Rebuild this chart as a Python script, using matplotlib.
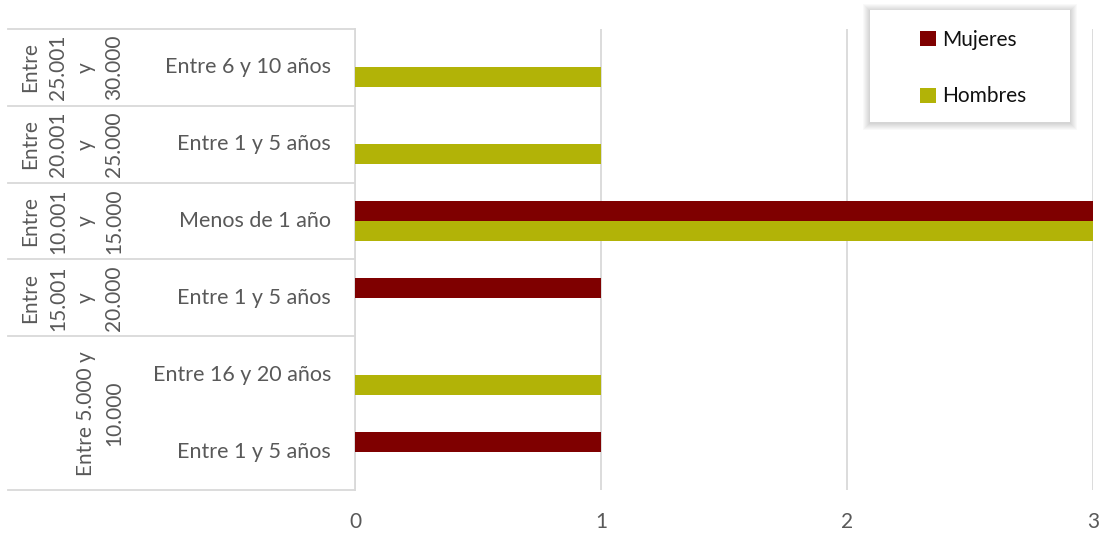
import matplotlib
matplotlib.use("Agg")
import matplotlib.pyplot as plt
from matplotlib.patches import Rectangle
from matplotlib.transforms import blended_transform_factory

# categories from bottom to top
inner_labels = ["Entre 1 y 5 años", "Entre 16 y 20 años", "Entre 1 y 5 años",
                "Menos de 1 año", "Entre 1 y 5 años", "Entre 6 y 10 años"]
mujeres = [1, 0, 1, 3, 0, 0]
hombres = [0, 1, 0, 3, 1, 1]
group_labels = ["Entre 5.000 y\n10.000", "Entre\n15.001\ny\n20.000",
                "Entre\n10.001\ny\n15.000", "Entre\n20.001\ny\n25.000",
                "Entre\n25.001\ny\n30.000"]
group_sizes = [2, 1, 1, 1, 1]

plt.rcParams['font.family'] = ['Lato', 'DejaVu Sans']
grey = '#595959'
line_c = '#d9d9d9'
W, H = 1101, 534

fig = plt.figure(figsize=(11.01, 5.34), dpi=100)
ax = fig.add_axes([0.3224, 0.0824, 0.6703, 0.8633])

y = list(range(len(inner_labels)))
h = 0.26
b1 = ax.barh([v + h / 2 for v in y], mujeres, height=h, color='#7f0000', label='Mujeres', zorder=3)
b2 = ax.barh([v - h / 2 for v in y], hombres, height=h, color='#b2b307', label='Hombres', zorder=3)

ax.set_xlim(0, 3)
ax.set_ylim(-0.5, len(y) - 0.5)
ax.set_xticks([0, 1, 2, 3])
ax.set_yticks([])
ax.grid(axis='x', color=line_c, linewidth=1.3, zorder=0)
for s in ['top', 'right', 'bottom']:
    ax.spines[s].set_visible(False)
ax.spines['left'].set_color(line_c)
ax.spines['left'].set_linewidth(1.3)
ax.tick_params(axis='x', length=0, pad=16, labelsize=15, labelcolor=grey)

# multi-level category labels on the left
tr = blended_transform_factory(fig.transFigure, ax.transData)
x_left = 8 / W
x_axis = 0.3224
bounds = [-0.5]
for n in group_sizes:
    bounds.append(bounds[-1] + n)
for b in bounds:
    ax.plot([x_left, x_axis], [b, b], transform=tr, color=line_c, lw=1.3, clip_on=False)

for i, lab in enumerate(inner_labels):
    ax.text(331 / W, i, lab, transform=tr, ha='right', va='center',
            fontsize=15.5, color=grey)

for j, lab in enumerate(group_labels):
    mid = (bounds[j] + bounds[j + 1]) / 2
    ax.text(124 / W, mid, lab, transform=tr, ha='right', va='center',
            rotation=90, multialignment='center', fontsize=15, color=grey,
            linespacing=1.5)

# legend box with soft shadow
for d in range(7, 0, -1):
    fig.patches.append(Rectangle(((870 - d) / W, 1 - (123 + d) / H),
                                 (200 + 2 * d) / W, (112 + 2 * d) / H,
                                 transform=fig.transFigure, facecolor='black',
                                 alpha=0.025, edgecolor='none', zorder=4))
fig.patches.append(Rectangle((870 / W, 1 - 122 / H), 200 / W, 112 / H,
                             transform=fig.transFigure, facecolor='white',
                             edgecolor='none', zorder=5))
leg = fig.legend(handles=[b1, b2], loc='upper left',
                 bbox_to_anchor=(920 / W, 1 - 30 / H), frameon=False,
                 fontsize=15, labelspacing=1.75, handlelength=0.75,
                 handleheight=0.75, handletextpad=0.3, borderpad=0,
                 borderaxespad=0, labelcolor='#111111')
leg.set_zorder(6)

fig.savefig('out.png', dpi=100)
